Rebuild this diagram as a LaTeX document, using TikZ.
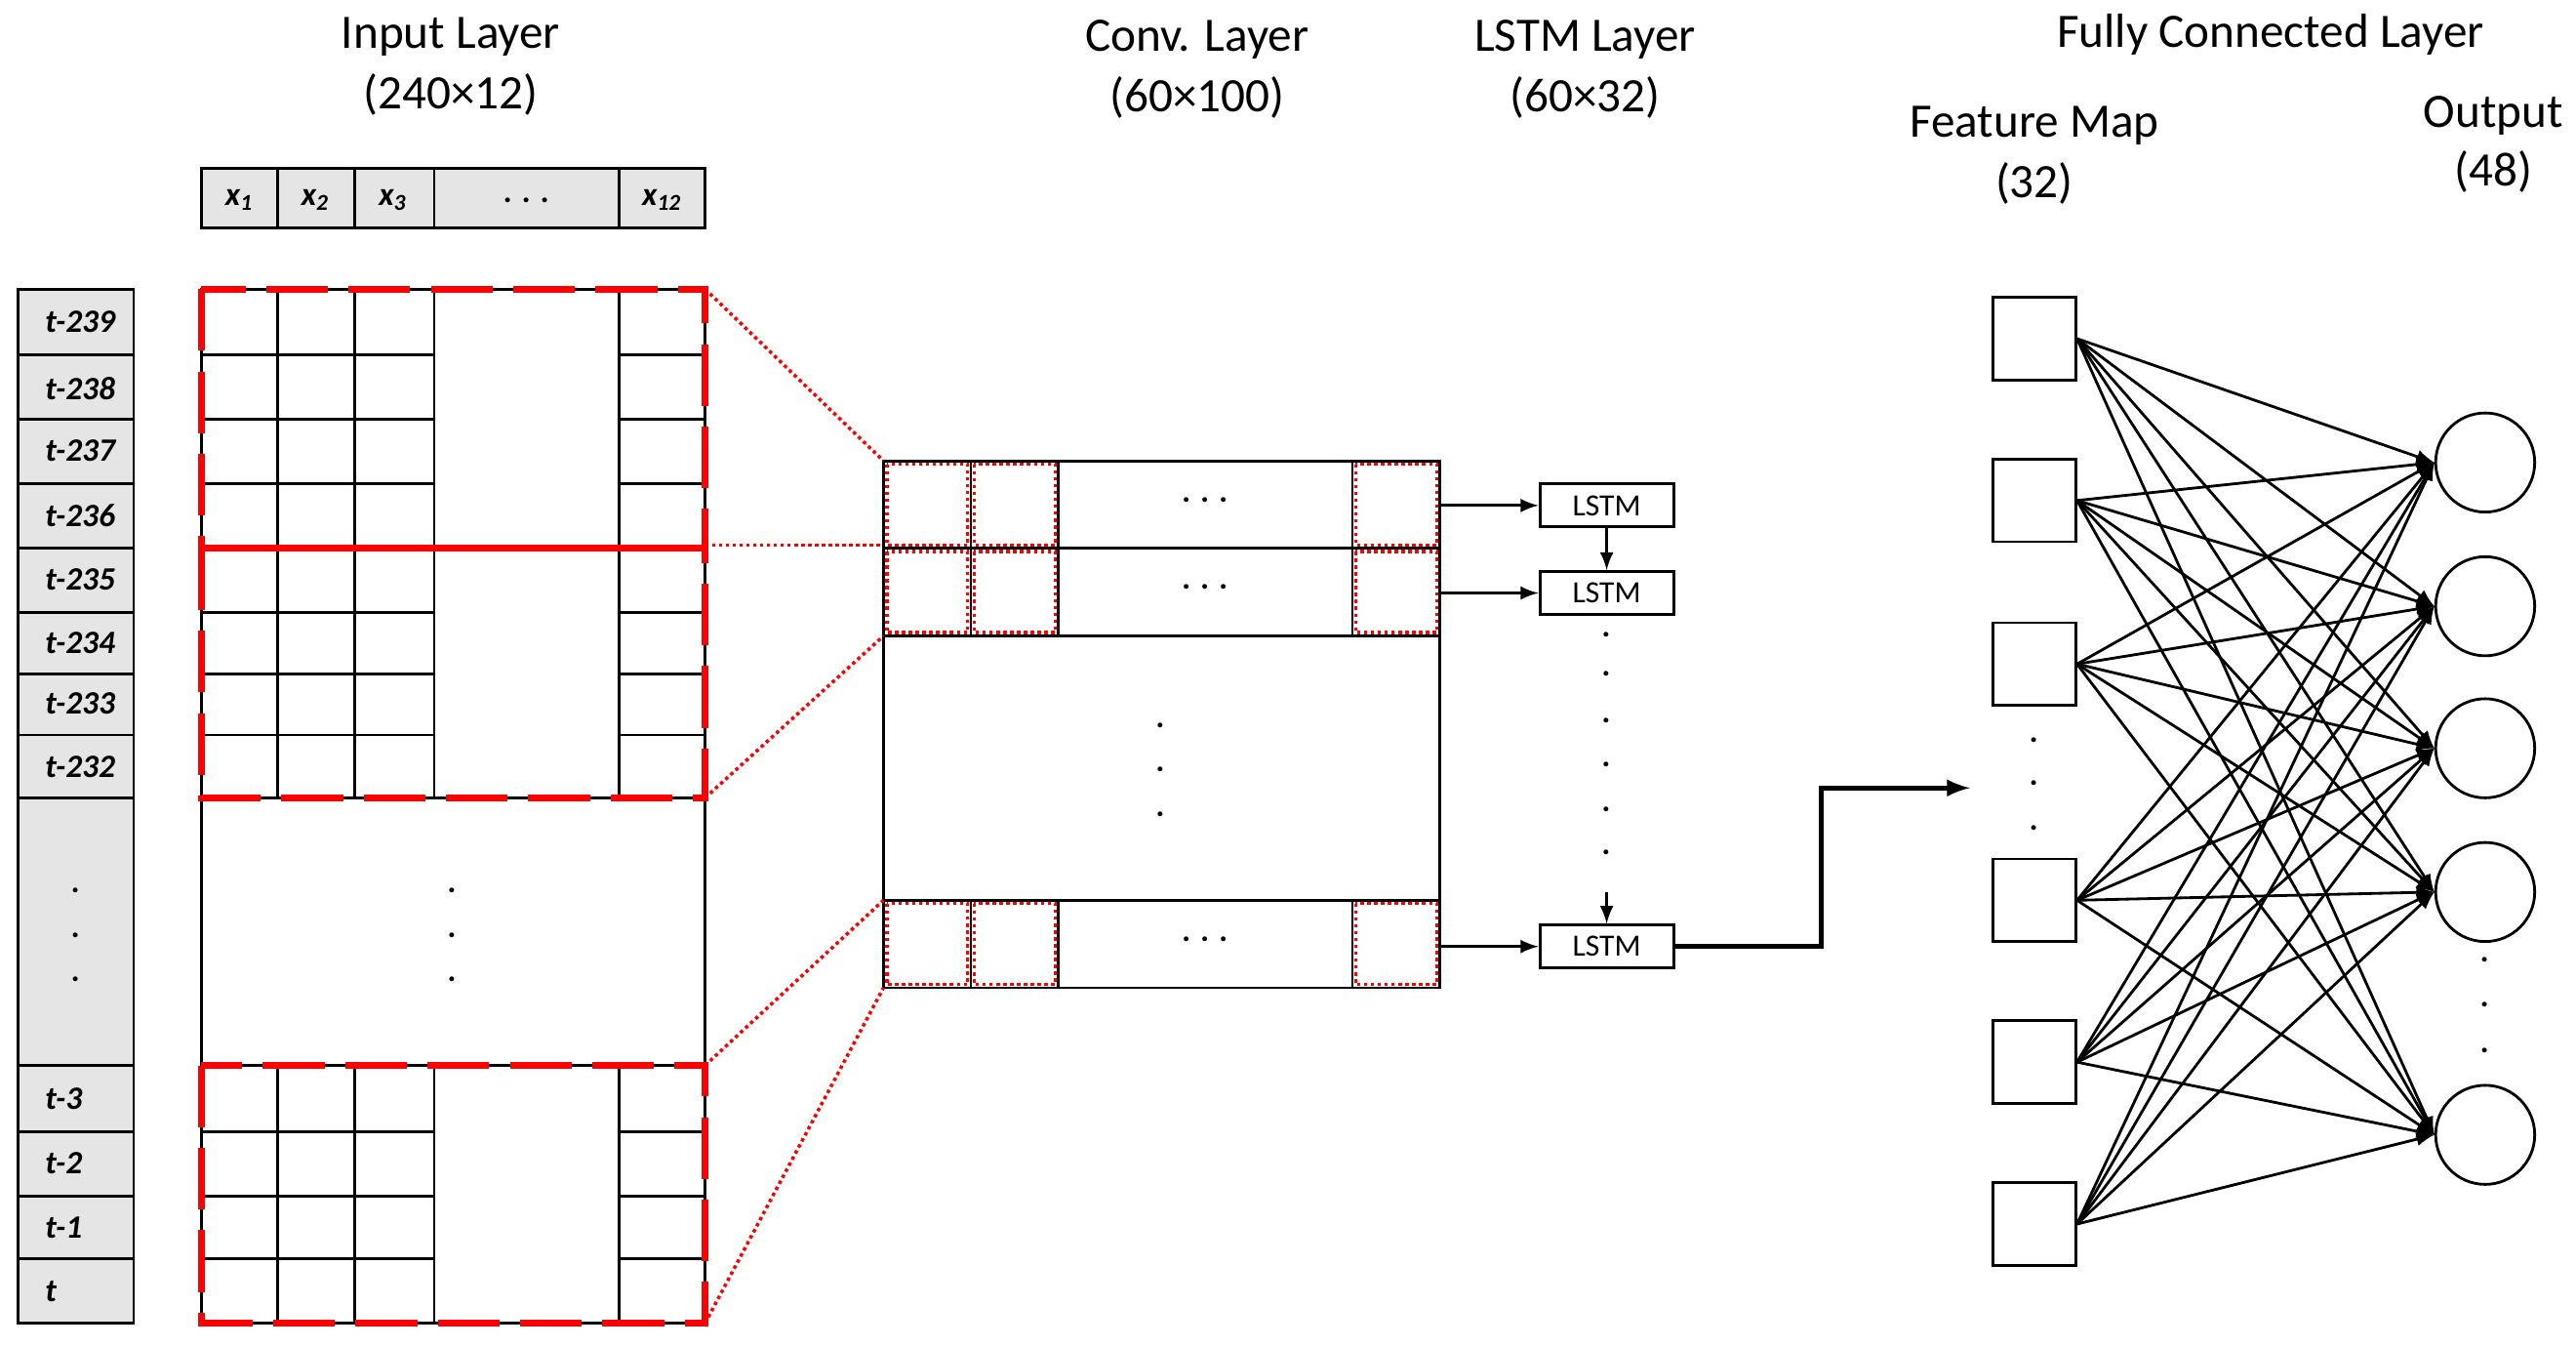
\documentclass[tikz,border=0pt]{standalone}
\usepackage{fontspec}
\setmainfont{Carlito}
\begin{document}
\begin{tikzpicture}[x=0.01692cm,y=-0.01692cm,
 big/.style={font=\fontsize{14}{16}\selectfont},
 lab/.style={font=\fontsize{9.5}{11}\selectfont\bfseries\itshape},
 rd/.style={red,line width=2pt,dash pattern=on 18pt off 6pt},
 rdot/.style={red,line width=1pt,densely dotted},
 lstm/.style={draw,thick,minimum width=1.37cm,minimum height=0.44cm,inner sep=0pt,font=\fontsize{9}{10}\selectfont},
 fm/.style={draw,thick,minimum size=0.846cm},
 oc/.style={draw,thick,circle,minimum size=1.015cm},
 arr/.style={-latex,thick}]
\useasboundingbox (0,0) rectangle (1560,815);
% titles
\node[big] at (273,22) {Input Layer}; \node[big] at (273,57) {(240×12)};
\node[big] at (725,24) {Conv. Layer}; \node[big] at (725,59) {(60×100)};
\node[big] at (960,24) {LSTM Layer}; \node[big] at (960,59) {(60×32)};
\node[big] at (1375,21) {Fully Connected Layer};
\node[big] at (1232,76) {Feature Map}; \node[big] at (1232,111) {(32)};
\node[big] at (1510,70) {Output}; \node[big] at (1510,104) {(48)};
% header
\draw[thick,fill=gray!20] (122,102) rectangle (427,138);
\foreach \x in {168,215,263,375} \draw[thick] (\x,102)--(\x,138);
\node[lab] at (145,121) {x\textsubscript{1}};
\node[lab] at (191,121) {x\textsubscript{2}};
\node[lab] at (238,121) {x\textsubscript{3}};
\node[lab] at (319,121) {. . .};
\node[lab] at (401,121) {x\textsubscript{12}};
% left column
\draw[thick,fill=gray!20] (11,175) rectangle (81,801);
\foreach \y in {215,254,293,332,371,408,445,483,645,685,724,762} \draw[thick] (11,\y)--(81,\y);
\foreach \t/\y in {239/195,238/235,237/273,236/312,235/351,234/389,233/426,232/464,3/665,2/704,1/743}
  \node[lab,anchor=west] at (20,\y) {t-\t};
\node[lab,anchor=west] at (20,782) {t};
\foreach \y in {543,570,597} \node[lab] at (46,\y-4) {.};
% main grid
\draw[thick] (122,175) rectangle (427,801);
\foreach \x in {168,215,263,375} {\draw[thick] (\x,175)--(\x,483); \draw[thick] (\x,645)--(\x,801);}
\foreach \y in {215,254,293,332,371,408,445} \draw[thick] (122,\y)--(263,\y) (375,\y)--(427,\y);
\foreach \y in {483,645} \draw[thick] (122,\y)--(427,\y);
\foreach \y in {685,724,762} \draw[thick] (122,\y)--(263,\y) (375,\y)--(427,\y);
\foreach \y in {543,570,597} \node[lab] at (274,\y-4) {.};
\draw[rd] (122,175) rectangle (427,332);
\draw[rd] (122,332) rectangle (427,483);
\draw[rd] (122,645) rectangle (427,801);
% conv
\draw[thick] (535,279) rectangle (872,598);
\foreach \y in {332,385,545} \draw[thick] (535,\y)--(872,\y);
\foreach \ya/\yb in {279/332,332/385,545/598} {
 \foreach \xa/\xb in {535/588,588/641,819/872} {\draw[thick] (\xa,\ya) rectangle (\xb,\yb); \draw[rdot] (\xa+2,\ya+2) rectangle (\xb-2,\yb-2);}
 \node[lab] at (730,{(\ya+\yb)/2-3}) {. . .};}
\foreach \y in {443,470,497} \node[lab] at (703,\y-4) {.};
\draw[rdot] (427,175)--(535,279);
\draw[rdot] (427,330)--(535,330);
\draw[rdot] (427,483)--(535,385);
\draw[rdot] (427,645)--(535,545);
\draw[rdot] (427,801)--(535,598);
% LSTM
\node[lstm] (l1) at (973,306) {LSTM};
\node[lstm] (l2) at (973,359) {LSTM};
\node[lstm] (l3) at (973,573) {LSTM};
\draw[arr] (872,306)--(l1.west);
\draw[arr] (872,359)--(l2.west);
\draw[arr] (872,573)--(l3.west);
\draw[arr] (l1)--(l2);
\foreach \y in {388,412,440,467,494,520} \node[lab] at (973,\y-4) {.};
\coordinate (c1) at (973,540);
\draw[arr] (c1)--(l3.north);
\coordinate (fin) at (1193,477);
\draw[-latex,line width=1.3pt] (l3.east)--(1103,573)--(1103,477)--(fin);
% FC
\foreach \i/\y in {1/205,2/303,3/402,4/545,5/643,6/741} \node[fm] (f\i) at (1232,\y) {};
\foreach \i/\y in {1/280,2/367,3/453,4/540,5/687} \node[oc] (o\i) at (1505,\y) {};
\foreach \y in {452,478,505} \node[lab] at (1232,\y-4) {.};
\foreach \y in {585,612,640} \node[lab] at (1505,\y-4) {.};
\foreach \i in {1,...,6} \foreach \j in {1,...,5} \draw[-latex,thick] (f\i.east)--(o\j.west);
\end{tikzpicture}
\end{document}
